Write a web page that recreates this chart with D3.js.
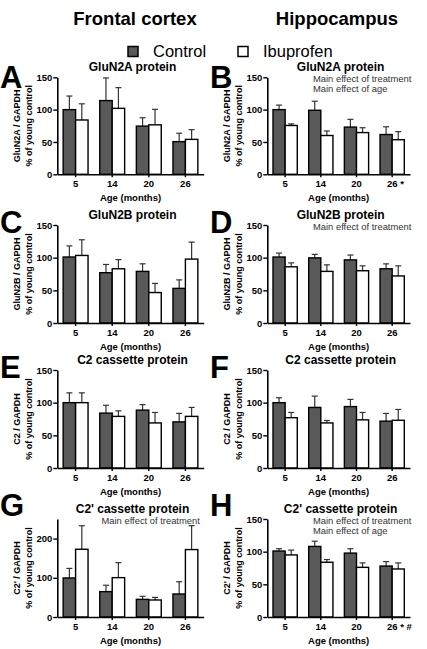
<!DOCTYPE html>
<html><head><meta charset="utf-8">
<script src="https://cdn.jsdelivr.net/npm/d3@7"></script>
<style>
body{margin:0;background:#fff;}
svg{display:block;font-family:"Liberation Sans",Arial,Helvetica,sans-serif;}
</style></head>
<body><svg id="c" width="427" height="649"></svg>
<script>
// ---- data ----
const ages = ["5","14","20","26"];
const groups = ["Control","Ibuprofen"];
const regions = ["Frontal cortex","Hippocampus"];
const panelIds = ["A","B","C","D","E","F","G","H"];
const titles = ["GluN2A protein","GluN2A protein","GluN2B protein","GluN2B protein","C2 cassette protein","C2 cassette protein","C2' cassette protein","C2' cassette protein"];
const yLabels = ["GluN2A / GAPDH","GluN2A / GAPDH","GluN2B / GAPDH","GluN2B / GAPDH","C2 / GAPDH","C2 / GAPDH","C2' / GAPDH","C2' / GAPDH"];
const yLabel2 = "% of young control";
const xLabel = "Age (months)";
const notes = [[],["Main effect of treatment","Main effect of age"],[],["Main effect of treatment"],[],[],["Main effect of treatment"],["Main effect of treatment","Main effect of age"]];
const lastTickSuffix = ["","*","","","","","","* #"];
const yMax = [150,150,150,150,150,150,250,150];
const yTicks = [[0,50,100,150],[0,50,100,150],[0,50,100,150],[0,50,100,150],[0,50,100,150],[0,50,100,150],[0,100,200],[0,50,100,150]];

const ctrlA = [100,114,74.5,50.5], ctrlAErr = [21,35,13,13];
const ibuA  = [84,102,76.5,54],   ibuAErr  = [25,32,24,15];
const ctrlB = [100,99,73,61.5],   ctrlBErr = [7,14,12,12];
const ibuB  = [75.5,60,64.5,53.5],ibuBErr  = [2.5,7,7.5,12.5];
const ctrlC = [101,77,79,53],     ctrlCErr = [17,12.6,11.6,13];
const ibuC  = [103.4,83,46.6,97.8],ibuCErr = [24,14,14,26];
const ctrlD = [101,99.7,96.6,83], ctrlDErr = [6,5.3,7.4,7.5];
const ibuD  = [86,79,80,72],      ibuDErr  = [6,10,7.5,15.5];
const ctrlE = [100,84,88.6,70.6], ctrlEErr = [15,12,8.4,13];
const ibuE  = [100,79,69,79],     ibuEErr  = [15,8.5,16,13.7];
const ctrlF = [100,92.7,94,71.7], ctrlFErr = [7.5,17.3,11,11.8];
const ibuF  = [77,69,73.7,73],    ibuFErr  = [8,3.7,11.3,16.6];
const ctrlG = [99.6,64.7,45,58.7],ctrlGErr = [24.4,16.3,7.8,31.3];
const ibuG  = [172.8,100.4,43.4,172],ibuGErr = [60,38.3,6.6,61];
const ctrlH = [101,108,97.8,78],  ctrlHErr = [3.5,8,6.7,6.8];
const ibuH  = [95,83.8,76,73.5],  ibuHErr  = [7.4,4.2,6.8,9.3];

const ctrlMeans = [ctrlA,ctrlB,ctrlC,ctrlD,ctrlE,ctrlF,ctrlG,ctrlH];
const ctrlErrs  = [ctrlAErr,ctrlBErr,ctrlCErr,ctrlDErr,ctrlEErr,ctrlFErr,ctrlGErr,ctrlHErr];
const ibuMeans  = [ibuA,ibuB,ibuC,ibuD,ibuE,ibuF,ibuG,ibuH];
const ibuErrs   = [ibuAErr,ibuBErr,ibuCErr,ibuDErr,ibuEErr,ibuFErr,ibuGErr,ibuHErr];

// ---- layout ----
const svg = d3.select("#c");
const FONT = '"Liberation Sans",Arial,Helvetica,sans-serif';
const colX = [[57.3,203.7],[267.3,410]];
const rowY = [[77.3,174.3],[225,323],[370,468],[519,617]];
const letterBase = [88,233,378,516];
const ctrlFill = "#595959";
const colors = {Control: ctrlFill, Ibuprofen: "#ffffff"};

// header
svg.append("text").attr("x",135).attr("y",25).attr("text-anchor","middle")
  .attr("font-size",18.5).attr("font-weight","bold").text(regions[0]);
svg.append("text").attr("x",337).attr("y",25).attr("text-anchor","middle")
  .attr("font-size",18.5).attr("font-weight","bold").text(regions[1]);
// legend
const legX = [[128,153],[238,263]];
groups.forEach((g,i)=>{
  svg.append("rect").attr("x",legX[i][0]).attr("y",46.5).attr("width",10).attr("height",10)
    .attr("fill",colors[g]).attr("stroke","#000").attr("stroke-width",1.5);
  svg.append("text").attr("x",legX[i][1]).attr("y",56.5).attr("font-size",16.5).text(g);
});

panelIds.forEach((pid,p)=>{
  const col = p%2, row = Math.floor(p/2);
  const [xl,xr] = colX[col];
  const [yt,yb] = rowY[row];
  const g = svg.append("g");
  const y = d3.scaleLinear().domain([0,yMax[p]]).range([yb,yt]);
  const x0 = d3.scaleBand().domain(ages).range([xl,xr]).paddingInner(0.32).paddingOuter(0.16);
  const x1 = d3.scaleBand().domain(groups).range([0,x0.bandwidth()]);

  const rows = ages.map((a,i)=>({age:a, vals:[
    {grp:"Control", m:ctrlMeans[p][i], e:ctrlErrs[p][i]},
    {grp:"Ibuprofen", m:ibuMeans[p][i], e:ibuErrs[p][i]}]}));

  const gg = g.selectAll("g.grp").data(rows).join("g")
    .attr("transform",d=>`translate(${x0(d.age)},0)`);
  // error bars
  gg.selectAll("g.eb").data(d=>d.vals).join("g").each(function(d){
    const cx = x1(d.grp)+x1.bandwidth()/2;
    const s = d3.select(this);
    s.append("line").attr("x1",cx).attr("x2",cx).attr("y1",y(d.m)).attr("y2",y(d.m+d.e))
      .attr("stroke","#333").attr("stroke-width",1.2);
    s.append("line").attr("x1",cx-3).attr("x2",cx+3).attr("y1",y(d.m+d.e)).attr("y2",y(d.m+d.e))
      .attr("stroke","#333").attr("stroke-width",1.2);
  });
  gg.selectAll("rect").data(d=>d.vals).join("rect")
    .attr("x",d=>x1(d.grp)).attr("width",x1.bandwidth())
    .attr("y",d=>y(d.m)).attr("height",d=>y(0)-y(d.m))
    .attr("fill",d=>colors[d.grp]).attr("stroke","#000").attr("stroke-width",1.4);

  // y axis
  const ya = g.append("g").attr("transform",`translate(${xl},0)`)
    .call(d3.axisLeft(y).tickValues(yTicks[p]).tickSize(4).tickPadding(1).tickSizeOuter(0));
  ya.select(".domain").attr("stroke-width",1.6);
  ya.selectAll(".tick line").attr("stroke-width",1.4);
  ya.selectAll("text").attr("font-size",9.5).attr("font-weight","bold").attr("font-family",FONT).attr("fill","#000");
  // x axis
  const xa = g.append("g").attr("transform",`translate(0,${yb})`)
    .call(d3.axisBottom(x0).tickSize(3).tickSizeOuter(0).tickPadding(3));
  xa.select(".domain").attr("stroke-width",1.6);
  xa.selectAll(".tick line").attr("stroke-width",1.4);
  xa.selectAll("text").attr("font-size",9.5).attr("font-weight","bold").attr("font-family",FONT).attr("fill","#000");
  if (lastTickSuffix[p]) {
    g.append("text").attr("x",x0("26")+x0.bandwidth()/2+8).attr("y",yb+12.5)
      .attr("font-size",9.5).attr("font-weight","bold").text(lastTickSuffix[p]);
  }
  // x label
  g.append("text").attr("x",(xl+xr)/2).attr("y",yb+26.5).attr("text-anchor","middle")
    .attr("font-size",9.5).attr("font-weight","bold").text(xLabel);
  // y labels
  const ymid = (yt+yb)/2;
  const lx = col===0 ? 0 : 210;
  g.append("text").attr("transform",`translate(${lx+17},${ymid}) rotate(-90)`).attr("dy","0.35em")
    .attr("text-anchor","middle").attr("font-size",9).attr("font-weight","bold").text(yLabels[p]);
  g.append("text").attr("transform",`translate(${lx+28.5},${ymid}) rotate(-90)`).attr("dy","0.35em")
    .attr("text-anchor","middle").attr("font-size",9).attr("font-weight","bold").text(yLabel2);
  // title
  g.append("text").attr("x",(xl+xr)/2+2).attr("y",yt-6.5).attr("text-anchor","middle")
    .attr("font-size",12).attr("font-weight","bold").text(titles[p]);
  // panel letter
  g.append("text").attr("x",lx).attr("y",letterBase[row]).attr("font-size",31).attr("font-weight","bold").text(pid);
  // notes
  notes[p].forEach((n,i)=>{
    g.append("text").attr("x",col===0?101.5:313).attr("y",yt+4.5+i*10.5)
      .attr("font-size",9.4).attr("fill","#333").text(n);
  });
});
</script></body></html>
